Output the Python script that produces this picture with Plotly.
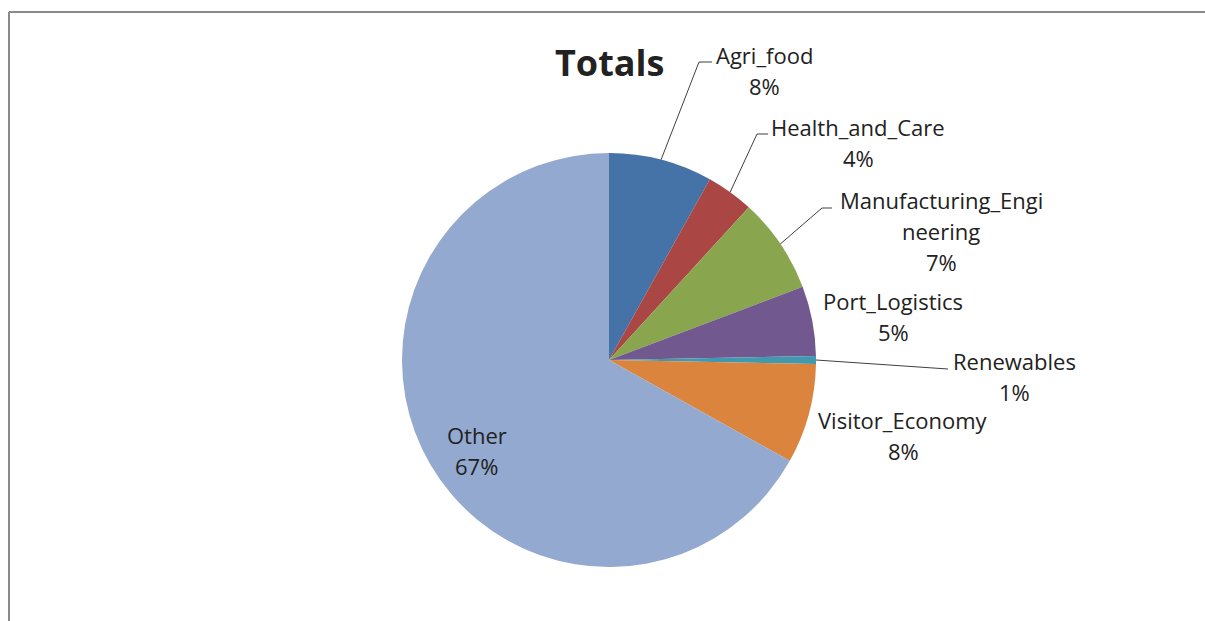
import math
import plotly.graph_objects as go

# Share of totals by sector (percent)
sectors = ["Agri_food", "Health_and_Care", "Manufacturing_Engineering", "Port_Logistics",
           "Renewables", "Visitor_Economy", "Other"]
shares = [8.1, 3.7, 7.45, 5.45, 0.6, 7.8, 66.9]
label_lines = [["Agri_food"], ["Health_and_Care"], ["Manufacturing_Engi", "neering"],
               ["Port_Logistics"], ["Renewables"], ["Visitor_Economy"], ["Other"]]
colors = ["#4572A7", "#AA4643", "#89A54E", "#71588F", "#4198AF", "#DB843D", "#93A9CF"]

W, H = 1205, 621
CX, CY, R = 609, 360, 207          # pie centre and radius in pixels
FONT = "Open Sans"
LINE_GAP = 31


def px(x):
    return x / W


def py(y):
    return 1 - y / H


# label placement (pixels): centre x, first-line centre y, leader elbow (or None), leader end x
placement = {
    "Agri_food": (764, 55, (699, 62), 712),
    "Health_and_Care": (858, 127, (757, 134), 768),
    "Manufacturing_Engineering": (941, 200, (822, 208), 832),
    "Port_Logistics": (893, 301, None, None),
    "Renewables": (1014, 361, None, 948),
    "Visitor_Economy": (903, 420, None, None),
}

fig = go.Figure(go.Pie(
    labels=sectors,
    values=shares,
    sort=False,
    direction="clockwise",
    rotation=0,
    marker=dict(colors=colors, line=dict(width=0)),
    textinfo="none",
    hoverinfo="label+percent",
    showlegend=False,
    domain=dict(x=[px(CX - R), px(CX + R)], y=[py(CY + R), py(CY - R)]),
))

total = sum(shares)
annotations = []
shapes = []


def text_ann(x, y, s, size=22, bold=False):
    annotations.append(dict(
        x=px(x), y=py(y), xref="paper", yref="paper", showarrow=False,
        text=f"<b>{s}</b>" if bold else s,
        font=dict(family=FONT, size=size, color="#222222"),
        xanchor="center", yanchor="middle",
    ))


def seg(x0, y0, x1, y1, color, width):
    shapes.append(dict(type="line", xref="paper", yref="paper",
                       x0=px(x0), y0=py(y0), x1=px(x1), y1=py(y1),
                       line=dict(color=color, width=width)))


cum = 0.0
for name, val, lines in zip(sectors, shares, label_lines):
    mid = (cum + val / 2) / total * 2 * math.pi
    cum += val
    pct = f"{round(val / total * 100)}%"
    sx, sy = CX + R * math.sin(mid), CY - R * math.cos(mid)
    if name == "Other":
        # label sits inside its own slice
        ox = CX + 0.74 * R * math.sin(mid)
        oy = CY - 0.74 * R * math.cos(mid)
        text_ann(ox, oy - 3, lines[0])
        text_ann(ox, oy - 3 + LINE_GAP, pct)
        continue
    tx, ty, elbow, end_x = placement[name]
    for i, s in enumerate(lines + [pct]):
        text_ann(tx, ty + i * LINE_GAP, s)
    # leader line from the slice's outer midpoint
    if elbow is not None:
        pts = [(sx, sy), elbow, (end_x, elbow[1])]
    elif end_x is not None:
        pts = [(sx, sy), (end_x, ty + 8)]
    else:
        pts = []
    for (x0, y0), (x1, y1) in zip(pts[:-1], pts[1:]):
        seg(x0, y0, x1, y1, "#404040", 1)

# chart title
text_ann(609, 62, "Totals", size=36, bold=True)

# chart area frame (top and left edges in view)
seg(9, 12, W, 12, "#8a8a8a", 2)
seg(9, 12, 9, H + 10, "#8a8a8a", 2)

fig.update_layout(
    width=W, height=H, autosize=False,
    margin=dict(l=0, r=0, t=0, b=0),
    paper_bgcolor="white", plot_bgcolor="white",
    annotations=annotations, shapes=shapes,
)

fig.write_html("out.html")
